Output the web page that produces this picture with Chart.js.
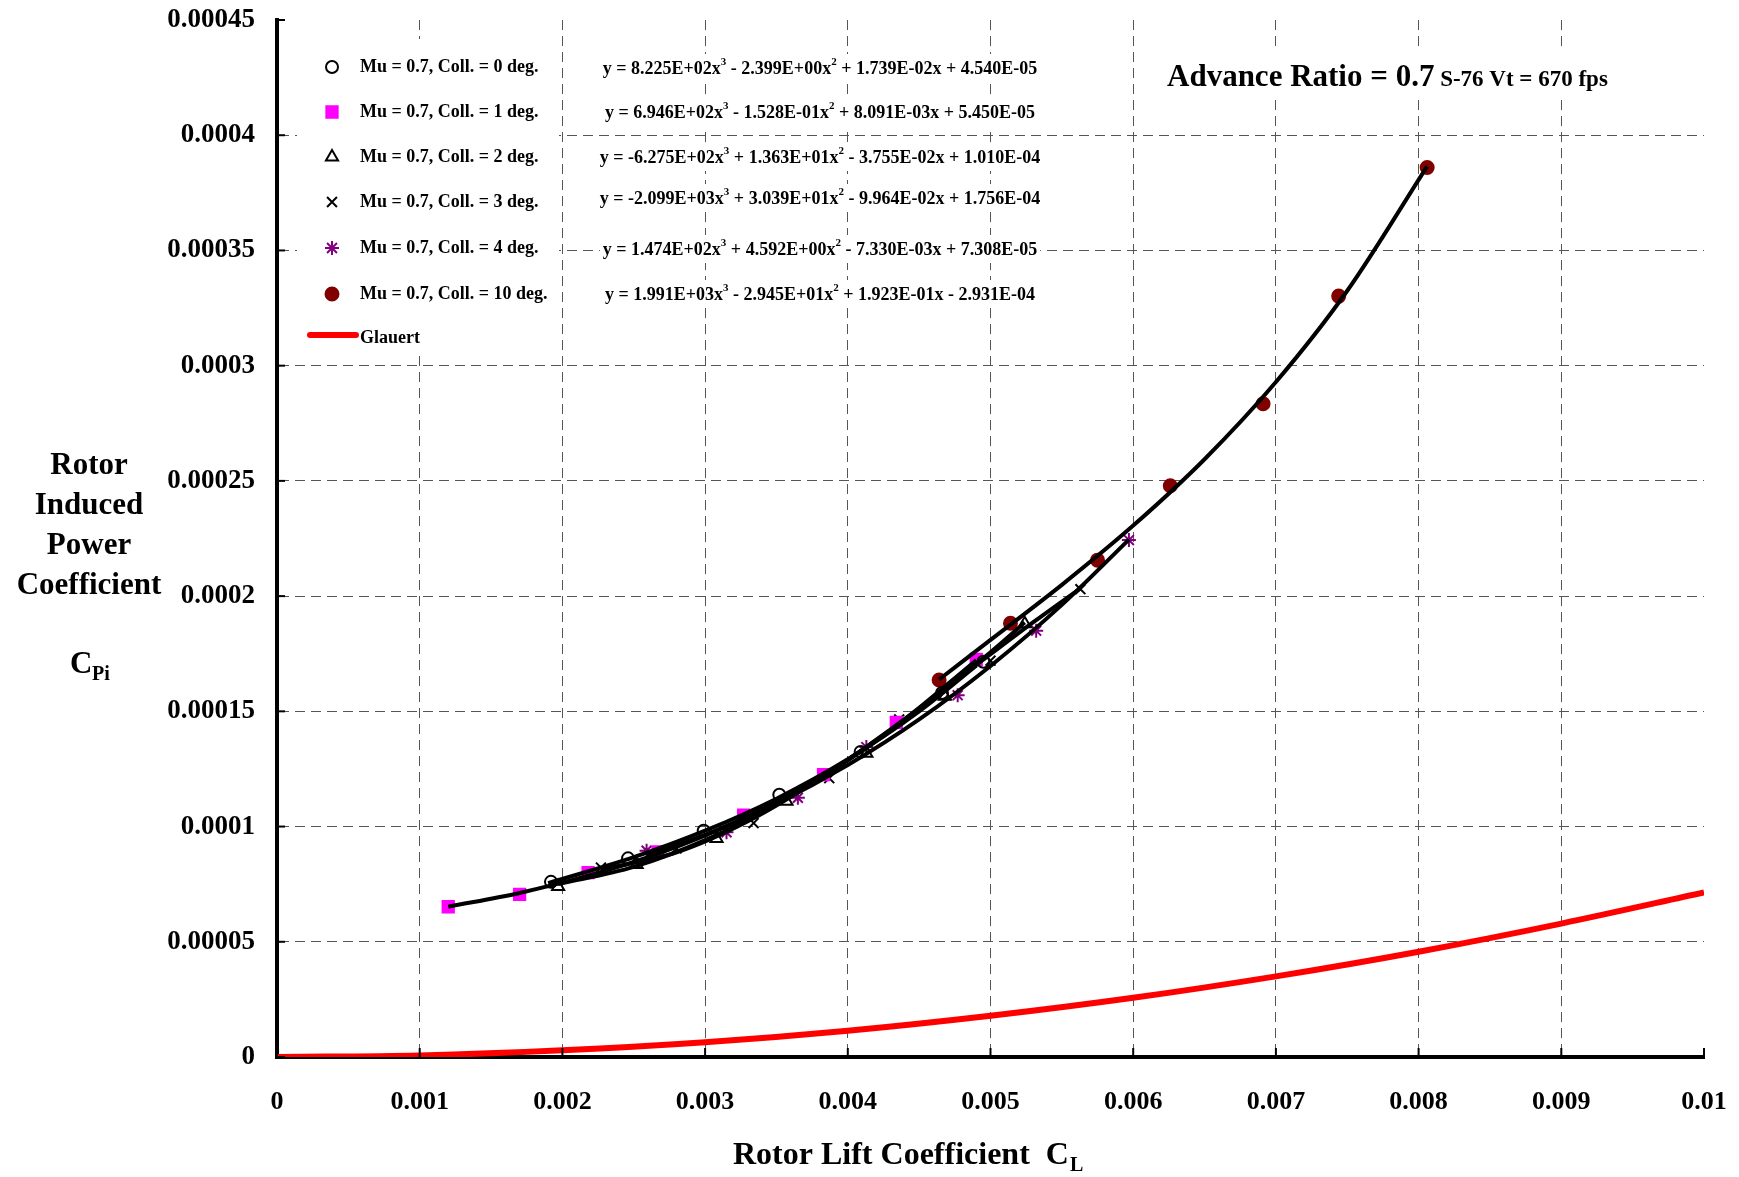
<!DOCTYPE html>
<html lang="en">
<head>
<meta charset="UTF-8">
<title>Advance Ratio = 0.7</title>
<script src="https://cdn.jsdelivr.net/npm/chart.js"></script>
<style>
  body { margin: 0; background: white; }
  #wrap { width: 1739px; height: 1177px; }
</style>
</head>
<body>
<div id="wrap"><canvas id="cpiChart" width="1739" height="1177"></canvas></div>
<script>
// tick values and labels
const xTicks = [0, 0.001, 0.002, 0.003, 0.004, 0.005, 0.006, 0.007, 0.008, 0.009, 0.01];
const xTickLabels = ['0', '0.001', '0.002', '0.003', '0.004', '0.005', '0.006', '0.007', '0.008', '0.009', '0.01'];
const yTicks = [0, 0.00005, 0.0001, 0.00015, 0.0002, 0.00025, 0.0003, 0.00035, 0.0004, 0.00045];
const yTickLabels = ['0', '0.00005', '0.0001', '0.00015', '0.0002', '0.00025', '0.0003', '0.00035', '0.0004', '0.00045'];

// measured points (CL, CPi) per collective
const coll0Cl  = [0.00192, 0.00246, 0.00299, 0.00352, 0.00409, 0.00466, 0.00495];
const coll0Cpi = [0.0000760, 0.0000862, 0.0000982, 0.0001138, 0.0001324, 0.0001580, 0.0001715];
const coll1Cl  = [0.00120, 0.00170, 0.00218, 0.00267, 0.00327, 0.00383, 0.00434, 0.00490];
const coll1Cpi = [0.0000652, 0.0000706, 0.0000800, 0.0000890, 0.0001050, 0.0001225, 0.0001452, 0.0001725];
const coll2Cl  = [0.00197, 0.00252, 0.00308, 0.00357, 0.00413, 0.00468, 0.00524];
const coll2Cpi = [0.0000740, 0.0000835, 0.0000948, 0.0001110, 0.0001318, 0.0001565, 0.0001880];
const coll3Cl  = [0.00227, 0.00280, 0.00334, 0.00387, 0.00436, 0.00500, 0.00563];
const coll3Cpi = [0.0000822, 0.0000905, 0.0001015, 0.0001210, 0.0001465, 0.0001720, 0.0002030];
const coll4Cl  = [0.00259, 0.00315, 0.00365, 0.00413, 0.00477, 0.00532, 0.00597];
const coll4Cpi = [0.0000895, 0.0000975, 0.0001125, 0.0001345, 0.0001570, 0.0001850, 0.0002243];
const coll10Cl  = [0.00464, 0.00514, 0.00575, 0.00626, 0.00691, 0.00744, 0.00806];
const coll10Cpi = [0.0001636, 0.0001882, 0.0002156, 0.0002479, 0.0002835, 0.0003302, 0.0003860];

// trendline curves read along the drawn fits
const fit0Cl  = [0.0019, 0.0025, 0.003, 0.0035, 0.004, 0.0045, 0.0049];
const fit0Cpi = [0.0000754, 0.0000867, 0.0000982, 0.0001121, 0.0001292, 0.0001500, 0.0001698];
const fit1Cl  = [0.0012, 0.0017, 0.0022, 0.0027, 0.0032, 0.0037, 0.0043, 0.0049];
const fit1Cpi = [0.0000652, 0.0000712, 0.0000790, 0.0000889, 0.0001016, 0.0001175, 0.0001417, 0.0001722];
const fit2Cl  = [0.00197, 0.0025, 0.003, 0.0035, 0.004, 0.0045, 0.005, 0.00524];
const fit2Cpi = [0.0000750, 0.0000825, 0.0000941, 0.0001096, 0.0001287, 0.0001509, 0.0001756, 0.0001885];
const fit3Cl  = [0.00227, 0.0028, 0.0033, 0.0038, 0.0043, 0.0048, 0.0053, 0.00563];
const fit3Cpi = [0.0000813, 0.0000888, 0.0001023, 0.0001206, 0.0001422, 0.0001654, 0.0001887, 0.0002034];
const fit4Cl  = [0.00259, 0.003, 0.0035, 0.004, 0.0045, 0.005, 0.0055, 0.00597];
const fit4Cpi = [0.0000875, 0.0000964, 0.0001100, 0.0001267, 0.0001465, 0.0001697, 0.0001962, 0.0002245];
const fit10Cl  = [0.00464, 0.005, 0.0055, 0.006, 0.0065, 0.007, 0.0075, 0.00806];
const fit10Cpi = [0.0001638, 0.0001810, 0.0002049, 0.0002306, 0.0002594, 0.0002929, 0.0003325, 0.0003865];

// Glauert theory curve
const glauertCl  = [0, 0.001, 0.002, 0.003, 0.004, 0.005, 0.006, 0.007, 0.008, 0.009, 0.01];
const glauertCpi = [0, 0.0000007, 0.0000029, 0.0000064, 0.0000114, 0.0000179, 0.0000257, 0.0000350, 0.0000457, 0.0000579, 0.0000714];

const seriesNames = ['Mu = 0.7, Coll. = 0 deg.', 'Mu = 0.7, Coll. = 1 deg.', 'Mu = 0.7, Coll. = 2 deg.',
                     'Mu = 0.7, Coll. = 3 deg.', 'Mu = 0.7, Coll. = 4 deg.', 'Mu = 0.7, Coll. = 10 deg.'];
const equations = [
  'y = 8.225E+02x^3 - 2.399E+00x^2 + 1.739E-02x + 4.540E-05',
  'y = 6.946E+02x^3 - 1.528E-01x^2 + 8.091E-03x + 5.450E-05',
  'y = -6.275E+02x^3 + 1.363E+01x^2 - 3.755E-02x + 1.010E-04',
  'y = -2.099E+03x^3 + 3.039E+01x^2 - 9.964E-02x + 1.756E-04',
  'y = 1.474E+02x^3 + 4.592E+00x^2 - 7.330E-03x + 7.308E-05',
  'y = 1.991E+03x^3 - 2.945E+01x^2 + 1.923E-01x - 2.931E-04'
];

const serif = '"Liberation Serif", "Times New Roman", serif';

function pts(xs, ys) {
  return xs.map((x, i) => ({x: x, y: ys[i]}));
}

function markerSet(label, xs, ys, style, radius, fill, stroke) {
  return {
    label: label,
    data: pts(xs, ys),
    pointStyle: style,
    pointRadius: radius,
    pointBackgroundColor: fill,
    pointBorderColor: stroke,
    pointBorderWidth: 2,
    showLine: false,
    order: 2
  };
}

function fitSet(xs, ys) {
  return {
    label: 'fit',
    data: pts(xs, ys),
    showLine: true,
    borderColor: '#000',
    borderWidth: 4,
    pointRadius: 0,
    cubicInterpolationMode: 'monotone',
    order: 1
  };
}

const markerSets = [
  markerSet(seriesNames[0], coll0Cl, coll0Cpi, 'circle', 6, 'rgba(255,255,255,0)', '#000'),
  markerSet(seriesNames[1], coll1Cl, coll1Cpi, 'rect', 8, '#ff00ff', '#ff00ff'),
  markerSet(seriesNames[2], coll2Cl, coll2Cpi, 'triangle', 7, 'rgba(255,255,255,0)', '#000'),
  markerSet(seriesNames[3], coll3Cl, coll3Cpi, 'crossRot', 7, '#000', '#000'),
  markerSet(seriesNames[4], coll4Cl, coll4Cpi, 'star', 7, '#800080', '#800080'),
  markerSet(seriesNames[5], coll10Cl, coll10Cpi, 'circle', 6.5, '#800000', '#800000')
];

const datasets = markerSets.concat([
  fitSet(fit0Cl, fit0Cpi), fitSet(fit1Cl, fit1Cpi), fitSet(fit2Cl, fit2Cpi),
  fitSet(fit3Cl, fit3Cpi), fitSet(fit4Cl, fit4Cpi), fitSet(fit10Cl, fit10Cpi),
  {
    label: 'Glauert',
    data: pts(glauertCl, glauertCpi),
    showLine: true,
    borderColor: '#ff0000',
    borderWidth: 6,
    pointRadius: 0,
    cubicInterpolationMode: 'monotone',
    order: 0
  }
]);

// text with ^n superscripts
function drawRich(ctx, text, x, y, size, measureOnly) {
  const parts = text.split(/\^(\d)/);
  let w = 0;
  parts.forEach((p, i) => {
    const sup = i % 2 === 1;
    ctx.font = 'bold ' + (sup ? Math.round(size * 0.62) : size) + 'px ' + serif;
    if (!measureOnly) ctx.fillText(p, x + w, sup ? y - size * 0.38 : y);
    w += ctx.measureText(p).width;
  });
  return w;
}

const overlayPlugin = {
  id: 'overlay',
  afterDraw(chart) {
    const ctx = chart.ctx;
    const area = chart.chartArea;
    const xs = chart.scales.x, ys = chart.scales.y;
    ctx.save();

    // short inward tick marks
    ctx.strokeStyle = '#000';
    ctx.lineWidth = 2;
    xTicks.forEach(v => {
      const px = xs.getPixelForValue(v);
      ctx.beginPath(); ctx.moveTo(px, area.bottom); ctx.lineTo(px, area.bottom - 9); ctx.stroke();
    });
    yTicks.forEach(v => {
      const py = ys.getPixelForValue(v);
      ctx.beginPath(); ctx.moveTo(area.left, py); ctx.lineTo(area.left + 8, py); ctx.stroke();
    });

    // legend box
    ctx.fillStyle = '#fff';
    ctx.fillRect(297, 39, 262, 316);
    const rowY = [67, 112, 157, 202, 248, 294];
    const eqY = [68, 112, 157, 198, 249, 294];
    ctx.textBaseline = 'middle';
    markerSets.forEach((ds, i) => {
      ctx.fillStyle = ds.pointBackgroundColor;
      ctx.strokeStyle = ds.pointBorderColor;
      ctx.lineWidth = 2;
      Chart.helpers.drawPoint(ctx, {pointStyle: ds.pointStyle, radius: ds.pointRadius, rotation: 0, borderWidth: 2}, 332, rowY[i]);
      ctx.fillStyle = '#000';
      ctx.font = 'bold 18px ' + serif;
      ctx.fillText(ds.label, 360, rowY[i]);
    });
    ctx.strokeStyle = '#ff0000';
    ctx.lineWidth = 6;
    ctx.lineCap = 'round';
    ctx.beginPath(); ctx.moveTo(310, 335); ctx.lineTo(356, 335); ctx.stroke();
    ctx.fillStyle = '#000';
    ctx.font = 'bold 18px ' + serif;
    ctx.fillText('Glauert', 360, 338);

    // trendline equations
    equations.forEach((eq, i) => {
      const w = drawRich(ctx, eq, 0, 0, 18, true);
      const x0 = 820 - w / 2;
      ctx.fillStyle = '#fff';
      ctx.fillRect(x0 - 3, eqY[i] - 14, w + 6, 28);
      ctx.fillStyle = '#000';
      drawRich(ctx, eq, x0, eqY[i] + 1, 18, false);
    });

    // chart title
    ctx.textBaseline = 'alphabetic';
    ctx.font = 'bold 31px ' + serif;
    const t1 = 'Advance Ratio = 0.7';
    const w1 = ctx.measureText(t1).width;
    ctx.font = 'bold 23px ' + serif;
    const t2 = ' S-76 Vt = 670 fps';
    const w2 = ctx.measureText(t2).width;
    ctx.fillStyle = '#fff';
    ctx.fillRect(1162, 52, w1 + w2 + 10, 44);
    ctx.fillStyle = '#000';
    ctx.font = 'bold 31px ' + serif;
    ctx.fillText(t1, 1167, 86);
    ctx.font = 'bold 23px ' + serif;
    ctx.fillText(t2, 1167 + w1, 86);

    // y axis title
    ctx.textAlign = 'center';
    ctx.textBaseline = 'middle';
    ctx.font = 'bold 31px ' + serif;
    ['Rotor', 'Induced', 'Power', 'Coefficient'].forEach((s, i) => ctx.fillText(s, 89, 466 + i * 40));
    ctx.textAlign = 'left';
    ctx.fillText('C', 70, 665);
    ctx.font = 'bold 20px ' + serif;
    ctx.fillText('Pi', 92, 675);

    // x axis title
    ctx.font = 'bold 32px ' + serif;
    const xt = 'Rotor Lift Coefficient  C';
    ctx.fillText(xt, 733, 1156);
    const xw = ctx.measureText(xt).width;
    ctx.font = 'bold 20px ' + serif;
    ctx.fillText('L', 733 + xw + 1, 1166);

    ctx.restore();
  }
};

const gridColor = (ctx, maxVal) => (ctx.tick && (ctx.tick.value === 0 || ctx.tick.value >= maxVal)) ? 'rgba(0,0,0,0)' : '#555';

new Chart(document.getElementById('cpiChart'), {
  type: 'scatter',
  data: { datasets: datasets },
  options: {
    responsive: false,
    animation: false,
    layout: { padding: { left: 0, right: 35, top: 20, bottom: 0 } },
    plugins: {
      legend: { display: false },
      tooltip: { enabled: false }
    },
    scales: {
      x: {
        type: 'linear',
        min: 0,
        max: 0.01,
        afterBuildTicks: s => { s.ticks = xTicks.map(v => ({value: v})); },
        afterFit: s => { s.height = 120; s.paddingLeft = 0; s.paddingRight = 0; },
        ticks: {
          color: '#000',
          padding: 30,
          maxRotation: 0,
          font: { family: serif, size: 26, weight: 'bold' },
          callback: (v, i) => xTickLabels[i]
        },
        grid: { color: c => gridColor(c, 0.01), lineWidth: 1, drawTicks: false },
        border: { color: '#000', width: 4, dash: [10, 6] }
      },
      y: {
        type: 'linear',
        min: 0,
        max: 0.00045,
        afterBuildTicks: s => { s.ticks = yTicks.map(v => ({value: v})); },
        afterFit: s => { s.width = 277; s.paddingTop = 0; s.paddingBottom = 0; },
        ticks: {
          color: '#000',
          padding: 22,
          font: { family: serif, size: 27, weight: 'bold' },
          callback: (v, i) => yTickLabels[i]
        },
        grid: { color: c => gridColor(c, 0.00045), lineWidth: 1, drawTicks: false },
        border: { color: '#000', width: 4, dash: [10, 6] }
      }
    }
  },
  plugins: [overlayPlugin]
});
</script>
</body>
</html>
